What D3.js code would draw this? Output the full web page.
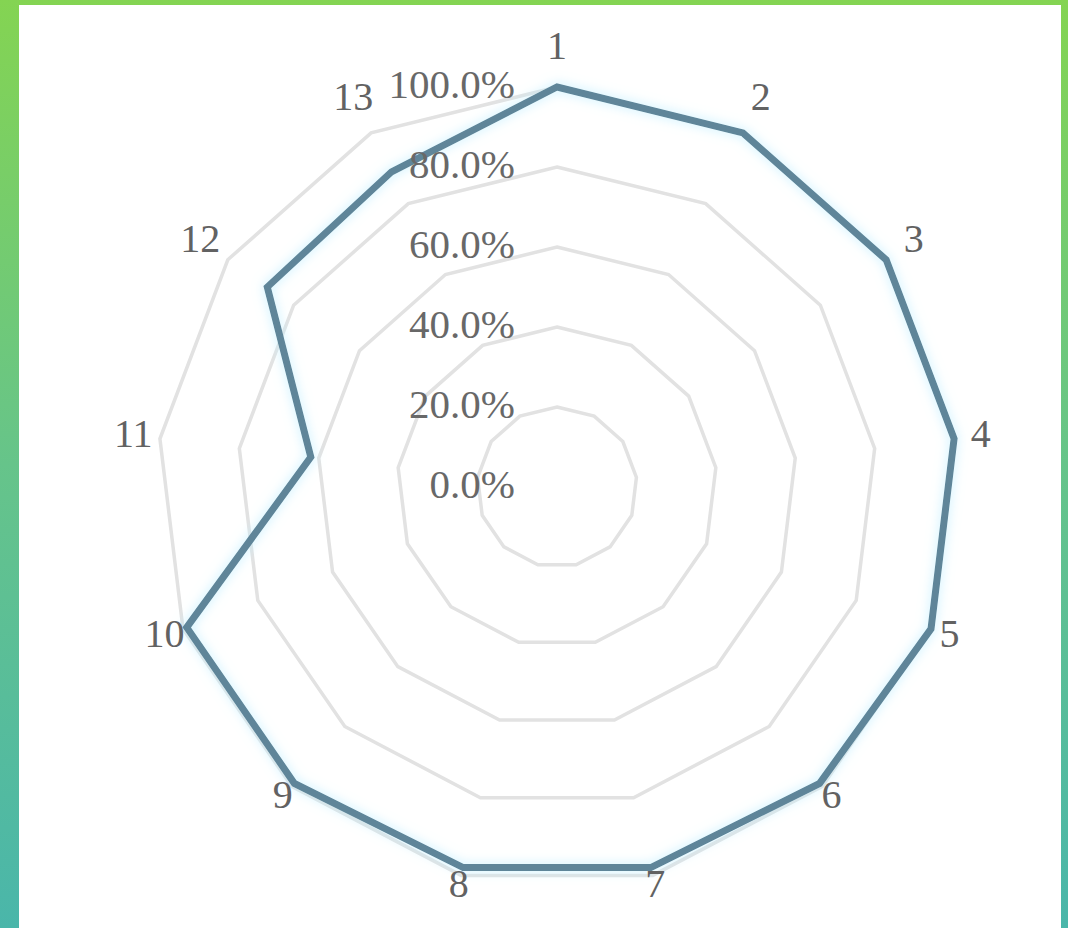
<!DOCTYPE html>
<html>
<head>
<meta charset="utf-8">
<script src="https://cdn.jsdelivr.net/npm/d3@7"></script>
<style>
  html, body { margin: 0; padding: 0; }
  body {
    width: 1068px; height: 928px; overflow: hidden;
    background: linear-gradient(to bottom, #84d452 0%, #66c48a 50%, #4ab6aa 100%);
  }
  #chart {
    position: absolute; left: 19px; top: 5px;
    width: 1042px; height: 923px; background: #fff;
  }
</style>
</head>
<body>
<div id="chart"></div>
<script>
// axis names, values (share of 100%), ring ticks
var axisNames = ['1', '2', '3', '4', '5', '6', '7', '8', '9', '10', '11', '12', '13'];
var values = [1.00, 1.00, 1.00, 1.00, 1.00, 0.99, 0.98, 0.98, 0.99, 0.99, 0.62, 0.88, 0.89];
var ticks = [0, 0.2, 0.4, 0.6, 0.8, 1.0];

drawRadar();

function drawRadar() {
  var width = 1042, height = 923;
  var cx = 557 - 19, cy = 487 - 5;

  var svg = d3.select('#chart').append('svg')
    .attr('width', width)
    .attr('height', height);

  var defs = svg.append('defs');
  var glow = defs.append('filter').attr('id', 'glow')
    .attr('x', '-20%').attr('y', '-20%').attr('width', '140%').attr('height', '140%');
  glow.append('feDropShadow')
    .attr('dx', 0).attr('dy', 0).attr('stdDeviation', 6)
    .attr('flood-color', '#bfefff').attr('flood-opacity', 0.9);

  var g = svg.append('g').attr('transform', 'translate(' + cx + ',' + cy + ')');

  var rScale = d3.scaleLinear().domain([0, 1]).range([0, 400]);
  var n = axisNames.length;
  var angle = function(i) { return i * 2 * Math.PI / n; };

  // grid rings (13-gons)
  var ring = d3.lineRadial()
    .angle(function(d, i) { return angle(i); })
    .radius(function(d) { return rScale(d); })
    .curve(d3.curveLinearClosed);

  g.selectAll('.grid')
    .data(ticks.filter(function(t) { return t > 0; }))
    .enter()
    .append('path')
    .attr('class', 'grid')
    .attr('d', function(t) { return ring(axisNames.map(function() { return t; })); })
    .attr('fill', 'none')
    .attr('stroke', '#e2e2e2')
    .attr('stroke-width', 3.5);

  // data line
  g.append('path')
    .datum(values)
    .attr('d', ring)
    .attr('fill', 'none')
    .attr('stroke', '#5e8599')
    .attr('stroke-width', 7)
    .attr('stroke-linejoin', 'miter')
    .attr('filter', 'url(#glow)');

  // axis names
  g.selectAll('.axis-name')
    .data(axisNames)
    .enter()
    .append('text')
    .attr('class', 'axis-name')
    .attr('x', function(d, i) {
      var r = 425 + 15 * Math.cos(angle(i));
      return r * Math.sin(angle(i));
    })
    .attr('y', function(d, i) {
      var r = 425 + 15 * Math.cos(angle(i));
      return -r * Math.cos(angle(i)) - 2;
    })
    .attr('text-anchor', 'middle')
    .attr('dominant-baseline', 'central')
    .attr('font-family', '"Liberation Serif", "DejaVu Serif", serif')
    .attr('font-size', '40px')
    .attr('fill', '#626262')
    .text(function(d) { return d; });

  // ring tick labels
  var fmt = d3.format('.1%');
  g.selectAll('.tick-label')
    .data(ticks)
    .enter()
    .append('text')
    .attr('class', 'tick-label')
    .attr('x', -42)
    .attr('y', function(t) { return -rScale(t) - 3; })
    .attr('text-anchor', 'end')
    .attr('dominant-baseline', 'central')
    .attr('font-family', '"Liberation Serif", "DejaVu Serif", serif')
    .attr('font-size', '41px')
    .attr('fill', '#686868')
    .text(function(t) { return fmt(t); });
}
</script>
</body>
</html>
